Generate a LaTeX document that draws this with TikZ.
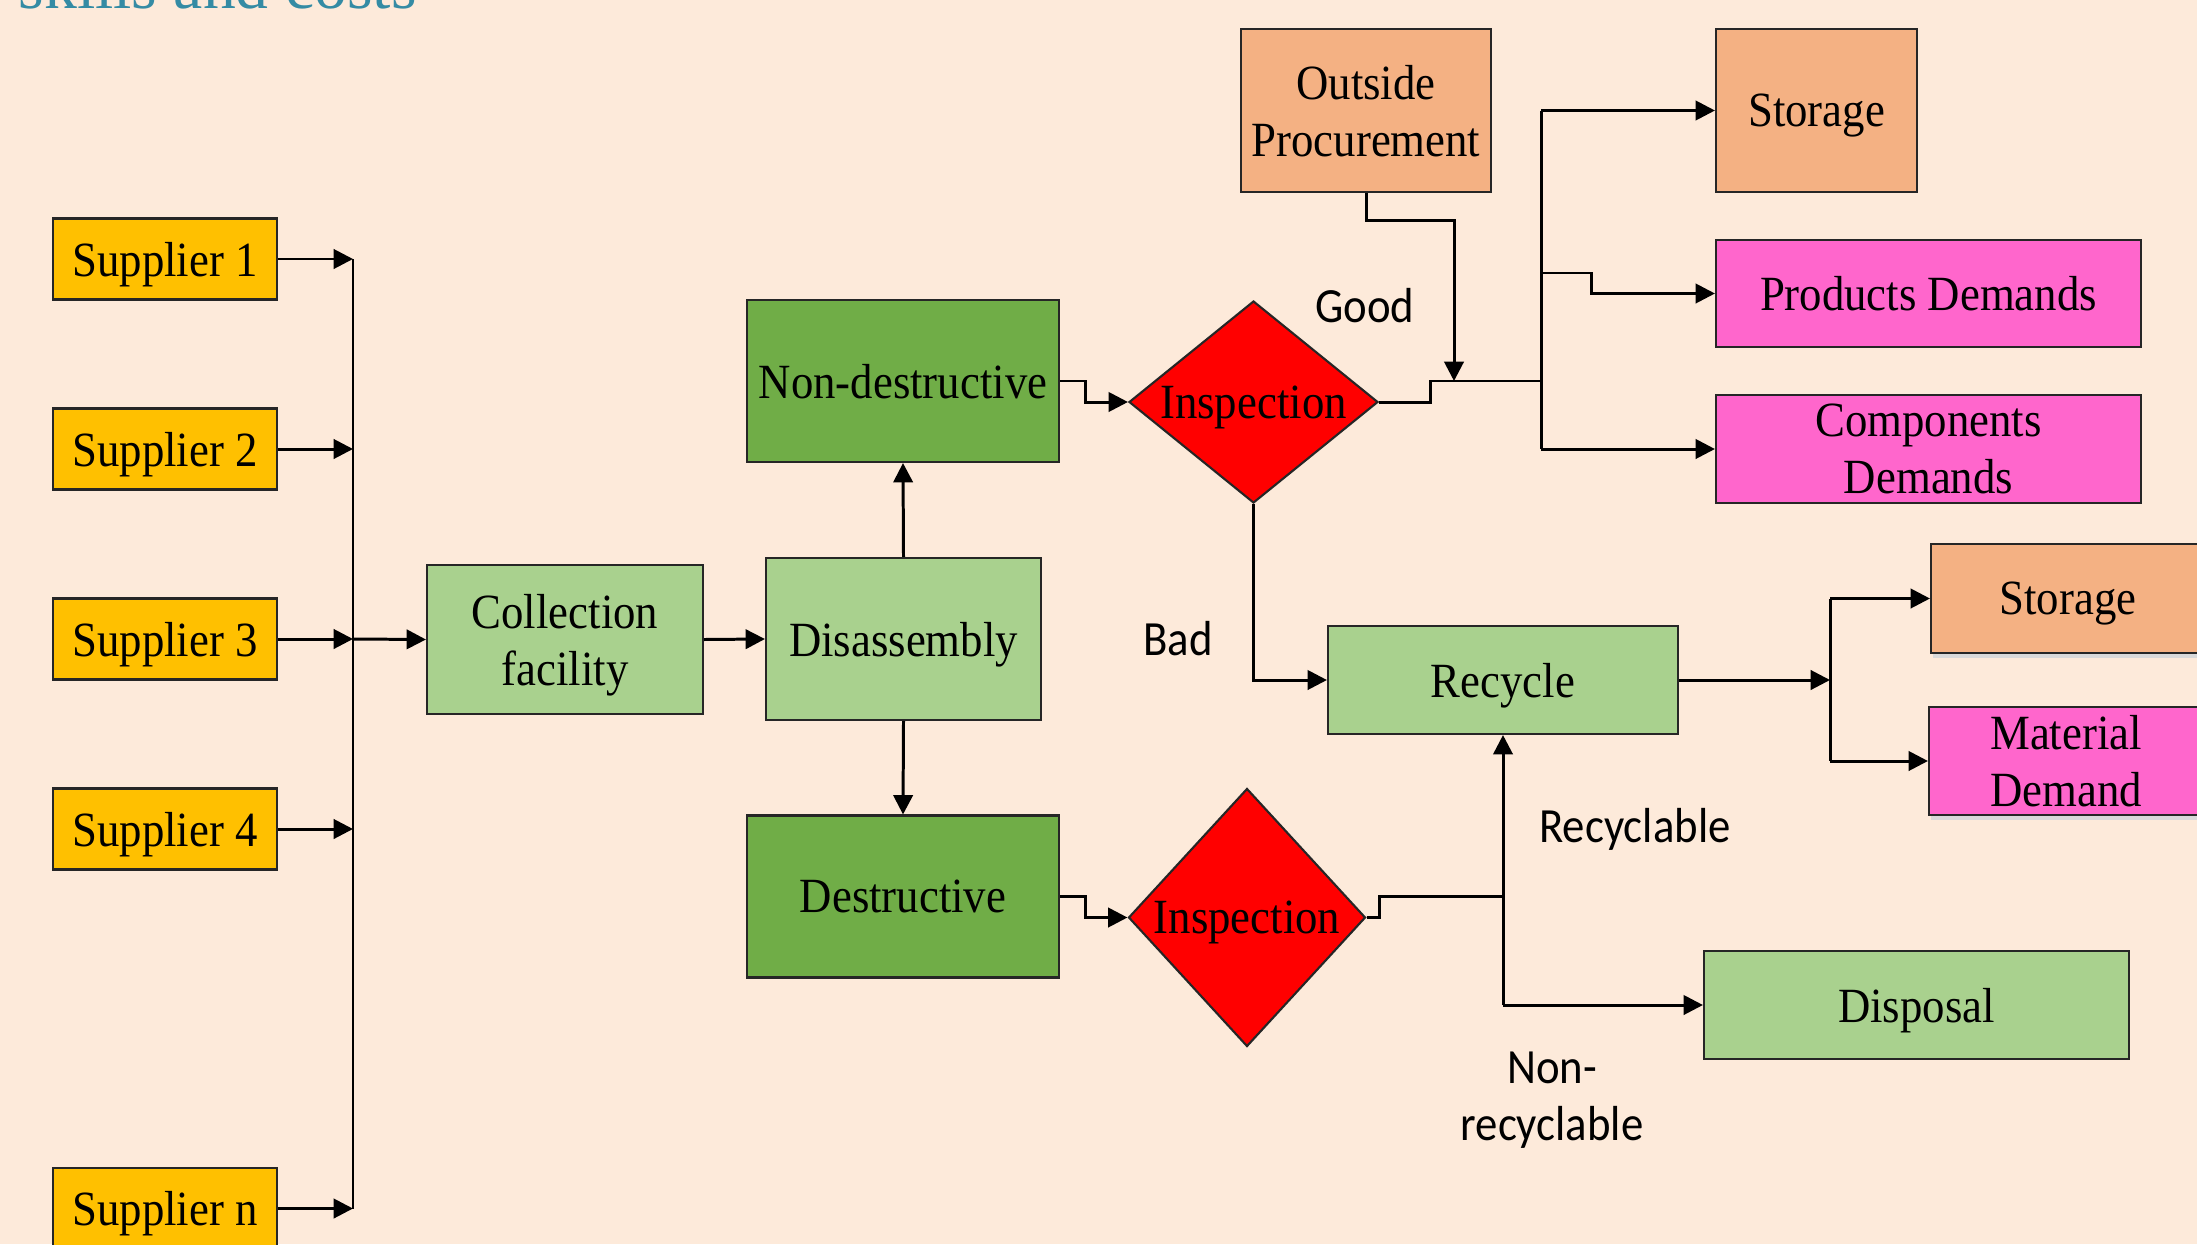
\documentclass[tikz,border=0pt]{standalone}
\usepackage{fontspec}
\setmainfont{Liberation Serif}[FakeStretch=0.91]
\newfontfamily\lblfont{Carlito}[FakeStretch=0.91]
\newfontfamily\headfont{Liberation Serif}
\usetikzlibrary{arrows.meta,shapes.geometric,shadows}

\definecolor{bgpeach}{HTML}{FDEADA}
\definecolor{supgold}{HTML}{FFC000}
\definecolor{lightgrn}{HTML}{A9D18E}
\definecolor{darkgrn}{HTML}{70AD47}
\definecolor{procorange}{HTML}{F4B183}
\definecolor{demandpink}{HTML}{FF66CC}
\definecolor{titleteal}{HTML}{348BA4}

\def\supW{2.24}
\def\supH{0.81}
\def\busX{3.53}

\tikzset{
  stage/.style = {draw=black!85, line width=0.6pt, inner sep=1pt, align=center,
                  text depth=0pt, font=\fontsize{14}{16.2}\selectfont},
  supbox/.style = {stage, fill=supgold, minimum width=\supW cm, minimum height=\supH cm},
  lgbox/.style = {stage, fill=lightgrn},
  dgbox/.style = {stage, fill=darkgrn, minimum width=3.12cm, minimum height=1.62cm},
  orbox/.style = {stage, fill=procorange},
  pkbox/.style = {stage, fill=demandpink},
  shadowed/.style = {drop shadow={shadow xshift=0.2mm, shadow yshift=-0.5mm,
                     fill=black!15, opacity=1}},
  checkpt/.style = {stage, diamond, fill=red, inner sep=0pt},
  lbl/.style = {font=\lblfont\fontsize{14}{16.2}\selectfont, inner sep=0pt, align=center},
  heading/.style = {font=\headfont\fontsize{18.7}{22}\selectfont, text=titleteal, inner sep=0pt},
  flow/.style = {line width=0.85pt},
  arr/.style = {flow, -{Triangle[length=5.5pt,width=5.5pt]}},
}

\begin{document}
\begin{tikzpicture}
            \fill [bgpeach] (0,0) rectangle (21.97,-12.44);
            \useasboundingbox (0,0) rectangle (21.97,-12.44);

            %% heading, cut by the top edge
            \node [heading, anchor=base west] (heading) at (0.18,-0.09) {skills and costs};

            %% suppliers
            \node [supbox] (sup1) at (1.65,-2.59) {Supplier 1};
            \node [supbox] (sup2) at (1.65,-4.49) {Supplier 2};
            \node [supbox] (sup3) at (1.65,-6.39) {Supplier 3};
            \node [supbox] (sup4) at (1.65,-8.29) {Supplier 4};
            \node [supbox] (supn) at (1.65,-12.085) {Supplier n};
            \coordinate (bus) at (\busX,0);

            %% collection and disassembly
            \node [lgbox, minimum width=2.76cm, minimum height=1.49cm]
            (coll) at (5.65,-6.395) {Collection\\facility};
            \node [lgbox, minimum width=2.75cm, minimum height=1.62cm]
            (disa) at (9.035,-6.39) {Disassembly};
            \node [dgbox] (nond) at (9.03,-3.81) {Non-destructive};
            \node [dgbox] (dest) at (9.03,-8.965) {Destructive};

            %% inspections
            \node [checkpt, minimum width=2.49cm, minimum height=2.02cm, aspect=1.23]
            (insp1) at (12.535,-4.02) {Inspection};
            \node [checkpt, minimum width=2.37cm, minimum height=2.58cm, aspect=0.92]
            (insp2) at (12.47,-9.175) {Inspection};

            %% good parts
            \node [orbox, minimum width=2.5cm, minimum height=1.63cm]
            (outp) at (13.66,-1.105) {Outside\\Procurement};
            \node [orbox, minimum width=2.01cm, minimum height=1.63cm]
            (stor1) at (18.165,-1.105) {Storage};
            \node [pkbox, minimum width=4.25cm, minimum height=1.07cm]
            (prod) at (19.285,-2.935) {Products Demands};
            \node [pkbox, minimum width=4.25cm, minimum height=1.08cm]
            (comp) at (19.285,-4.49) {Components\\Demands};

            %% bad parts
            \node [lgbox, minimum width=3.5cm, minimum height=1.08cm]
            (recy) at (15.03,-6.8) {Recycle};
            \node [orbox, shadowed, minimum width=2.74cm, minimum height=1.09cm]
            (stor2) at (20.68,-5.985) {Storage};
            \node [pkbox, shadowed, minimum width=2.74cm, minimum height=1.08cm]
            (matd) at (20.66,-7.61) {Material\\Demand};
            \node [lgbox, minimum width=4.25cm, minimum height=1.08cm]
            (disp) at (19.165,-10.05) {Disposal};

            %% branch labels
            \node [lbl] (good) at (13.65,-3.06) {Good};
            \node [lbl] (bad) at (11.78,-6.39) {Bad};
            \node [lbl] (recyc) at (16.35,-8.29) {Recyclable};
            \node [lbl] (nonrec) at (15.52,-11.0) {Non-\\recyclable};

            %% suppliers into the bus
            \draw [arr] (sup1.east) -- (sup1.east -| bus);
            \draw [arr] (sup2.east) -- (sup2.east -| bus);
            \draw [arr] (sup3.east) -- (sup3.east -| bus);
            \draw [arr] (sup4.east) -- (sup4.east -| bus);
            \draw [arr] (supn.east) -- (supn.east -| bus);
            \draw [flow]
            (sup1.east -| bus) -- (supn.east -| bus)
            ;
            \draw [arr] (sup3.east -| bus) -- (coll.west);
            \draw [arr] (coll.east) -- (disa.west);
            \draw [arr] (disa.north) -- (nond.south);
            \draw [arr] (disa.south) -- (dest.north);

            %% into the inspections
            \draw [arr]
            (nond.east) -- ++(0.25,0) |- (insp1.west)
            ;
            \draw [arr]
            (dest.east) -- ++(0.25,0) |- (insp2.west)
            ;

            %% good branch
            \coordinate (gbus) at (15.41,-3.81);
            \coordinate (gin) at (14.54,-3.81);
            \coordinate (pjoin) at (15.41,-2.73);
            \draw [flow]
            (insp1.east) -- ++(0.51,0) |- (gbus)
            ;
            \draw [arr]
            (outp.south) -- ++(0,-0.27) -| (gin)
            ;
            \draw [flow]
            (gbus |- stor1.west) -- (gbus |- comp.west)
            ;
            \draw [arr] (gbus |- stor1.west) -- (stor1.west);
            \draw [arr] (gbus |- comp.west) -- (comp.west);
            \draw [arr]
            (pjoin) -- ++(0.5,0) |- (prod.west)
            ;

            %% bad branch
            \draw [arr]
            (insp1.south) |- (recy.west)
            ;
            \coordinate (mbus) at (18.3,-6.8);
            \draw [arr] (recy.east) -- (mbus);
            \draw [flow]
            (mbus |- stor2.west) -- (mbus |- matd.west)
            ;
            \draw [arr] (mbus |- stor2.west) -- (stor2.west);
            \draw [arr] (mbus |- matd.west) -- (matd.west);

            %% destructive branch
            \draw [flow]
            (insp2.east) -- ++(0.13,0) |- (recy.south |- dest.east)
            ;
            \draw [arr] (recy.south |- disp.west) -- (recy.south);
            \draw [arr] (recy.south |- disp.west) -- (disp.west);
\end{tikzpicture}
\end{document}
